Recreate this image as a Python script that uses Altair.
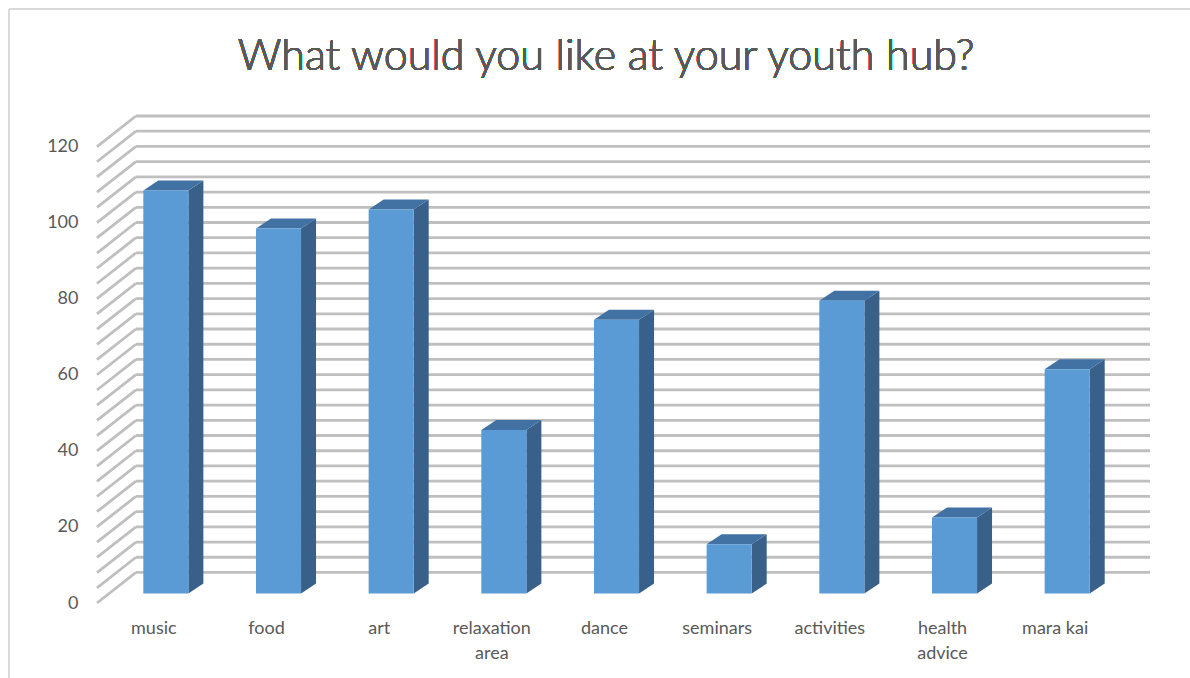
import altair as alt
import pandas as pd

# Survey answers
categories = ["music", "food", "art", "relaxation area", "dance",
              "seminars", "activities", "health advice", "mara kai"]
votes = [106, 96, 101, 43, 72, 13, 77, 20, 59]

TITLE = "What would you like at your youth hub?"

# Axis ticks / gridlines
y_labels = [0, 20, 40, 60, 80, 100, 120]
grid_values = list(range(0, 124, 4))

# 3-D geometry: x in category units, y in value units
WALL_DX, WALL_DY = 0.346, 8.03     # depth of the side / back walls
BAR_DX, BAR_DY = 0.111, 2.47       # where the bar front sits inside the box
DEPTH_DX, DEPTH_DY = 0.133, 2.63   # thickness of each column
HALF_W = 0.2                       # half width of a column front

X_MIN, X_MAX = -0.5, len(categories) - 0.5 + WALL_DX
Y_MAX = 120 + WALL_DY

W, H = 1053, 487
xs = alt.Scale(domain=[X_MIN, X_MAX], nice=False, zero=False)
ys = alt.Scale(domain=[0, Y_MAX], nice=False, zero=False)

FONT = "Lato"
TITLE_FONT = "'Lato Light', Lato"
TXT = "#595959"
GRID = "#bfbfbf"

# category labels, two-word ones wrapped onto two lines
label_items = []
for c in categories:
    parts = c.split(" ")
    if c in ("relaxation area", "health advice"):
        label_items.append("[" + ",".join("'%s'" % p for p in parts) + "]")
    else:
        label_items.append("'%s'" % c)
label_expr = "[" + ",".join(label_items) + "][datum.value]"

X_AXIS = alt.Axis(values=list(range(len(categories))), labelExpr=label_expr,
                  title=None, grid=False, ticks=False, domain=False,
                  labelFont=FONT, labelFontSize=18, labelColor=TXT,
                  labelBaseline="top", labelPadding=16, labelLineHeight=25,
                  labelFlush=False, labelOverlap=False)
Y_AXIS = alt.Axis(values=y_labels, title=None, grid=False, ticks=False,
                  domain=False, labelFont=FONT, labelFontSize=18,
                  labelColor=TXT, labelPadding=19)


def X(field):
    return alt.X(field, scale=xs, axis=X_AXIS)


def Y(field):
    return alt.Y(field, scale=ys, axis=Y_AXIS)


# ---- walls -------------------------------------------------------------
grid = pd.DataFrame({"v": grid_values})
grid["side_x"] = X_MIN
grid["side_x2"] = X_MIN + WALL_DX
grid["side_y2"] = grid["v"] + WALL_DY
grid["back_x2"] = len(categories) - 0.5 + WALL_DX

side_wall = alt.Chart(grid).mark_rule(color=GRID, strokeWidth=2.8).encode(
    x=X("side_x:Q"), x2="side_x2:Q",
    y=Y("v:Q"), y2="side_y2:Q",
)

back_wall = alt.Chart(grid).mark_rule(color=GRID, strokeWidth=2.8).encode(
    x=X("side_x2:Q"), x2="back_x2:Q",
    y=Y("side_y2:Q"),
)

# ---- columns -----------------------------------------------------------
bars = pd.DataFrame({"cat": categories, "votes": votes,
                     "idx": list(range(len(categories)))})
bars["left"] = bars["idx"] + BAR_DX - HALF_W
bars["right"] = bars["idx"] + BAR_DX + HALF_W
bars["base"] = BAR_DY
bars["top"] = bars["votes"] + BAR_DY

front = alt.Chart(bars).mark_rect(color="#5b9bd5").encode(
    x=X("left:Q"), x2="right:Q",
    y=Y("base:Q"), y2="top:Q",
)

# side face: vertical area between the front-right edge and the back-right edge
side_rows = []
for r in bars.itertuples():
    side_rows.append({"cat": r.cat, "x": r.right, "y": r.base, "y2": r.top})
    side_rows.append({"cat": r.cat, "x": r.right + DEPTH_DX,
                      "y": r.base + DEPTH_DY, "y2": r.top + DEPTH_DY})
side = alt.Chart(pd.DataFrame(side_rows)).mark_area(
    orient="vertical", color="#386089", interpolate="linear"
).encode(
    x=X("x:Q"), y=Y("y:Q"), y2="y2:Q", detail="cat:N",
)

# top face: horizontal area between the front-top edge and the back-top edge
top_rows = []
for r in bars.itertuples():
    top_rows.append({"cat": r.cat, "y": r.top, "x": r.left, "x2": r.right})
    top_rows.append({"cat": r.cat, "y": r.top + DEPTH_DY,
                     "x": r.left + DEPTH_DX, "x2": r.right + DEPTH_DX})
top = alt.Chart(pd.DataFrame(top_rows)).mark_area(
    orient="horizontal", color="#4272a3", interpolate="linear"
).encode(
    y=Y("y:Q"), x=X("x:Q"), x2="x2:Q", detail="cat:N",
)

# chart title and light chart-area frame
title = alt.Chart(grid).mark_text(
    text=TITLE, font=TITLE_FONT, fontSize=43, fontWeight=300, color=TXT,
    align="center", baseline="alphabetic"
).encode(x=alt.value(509), y=alt.value(-46))

frame_top = alt.Chart(grid).mark_rule(color="#d9d9d9", strokeWidth=1.5).encode(
    x=alt.value(-88), x2=alt.value(1110), y=alt.value(-107))
frame_left = alt.Chart(grid).mark_rule(color="#d9d9d9", strokeWidth=1.5).encode(
    x=alt.value(-88), y=alt.value(-107), y2=alt.value(580))

chart = alt.layer(
    side_wall, back_wall, side, top, front, title, frame_top, frame_left
).properties(
    width=W, height=H,
    padding={"left": 97, "top": 116, "right": 40, "bottom": 75},
    autosize=alt.AutoSizeParams(type="none"),
).configure(background="white").configure_view(strokeWidth=0)

chart.save("out.html", embed_options={"renderer": "svg", "actions": False})
